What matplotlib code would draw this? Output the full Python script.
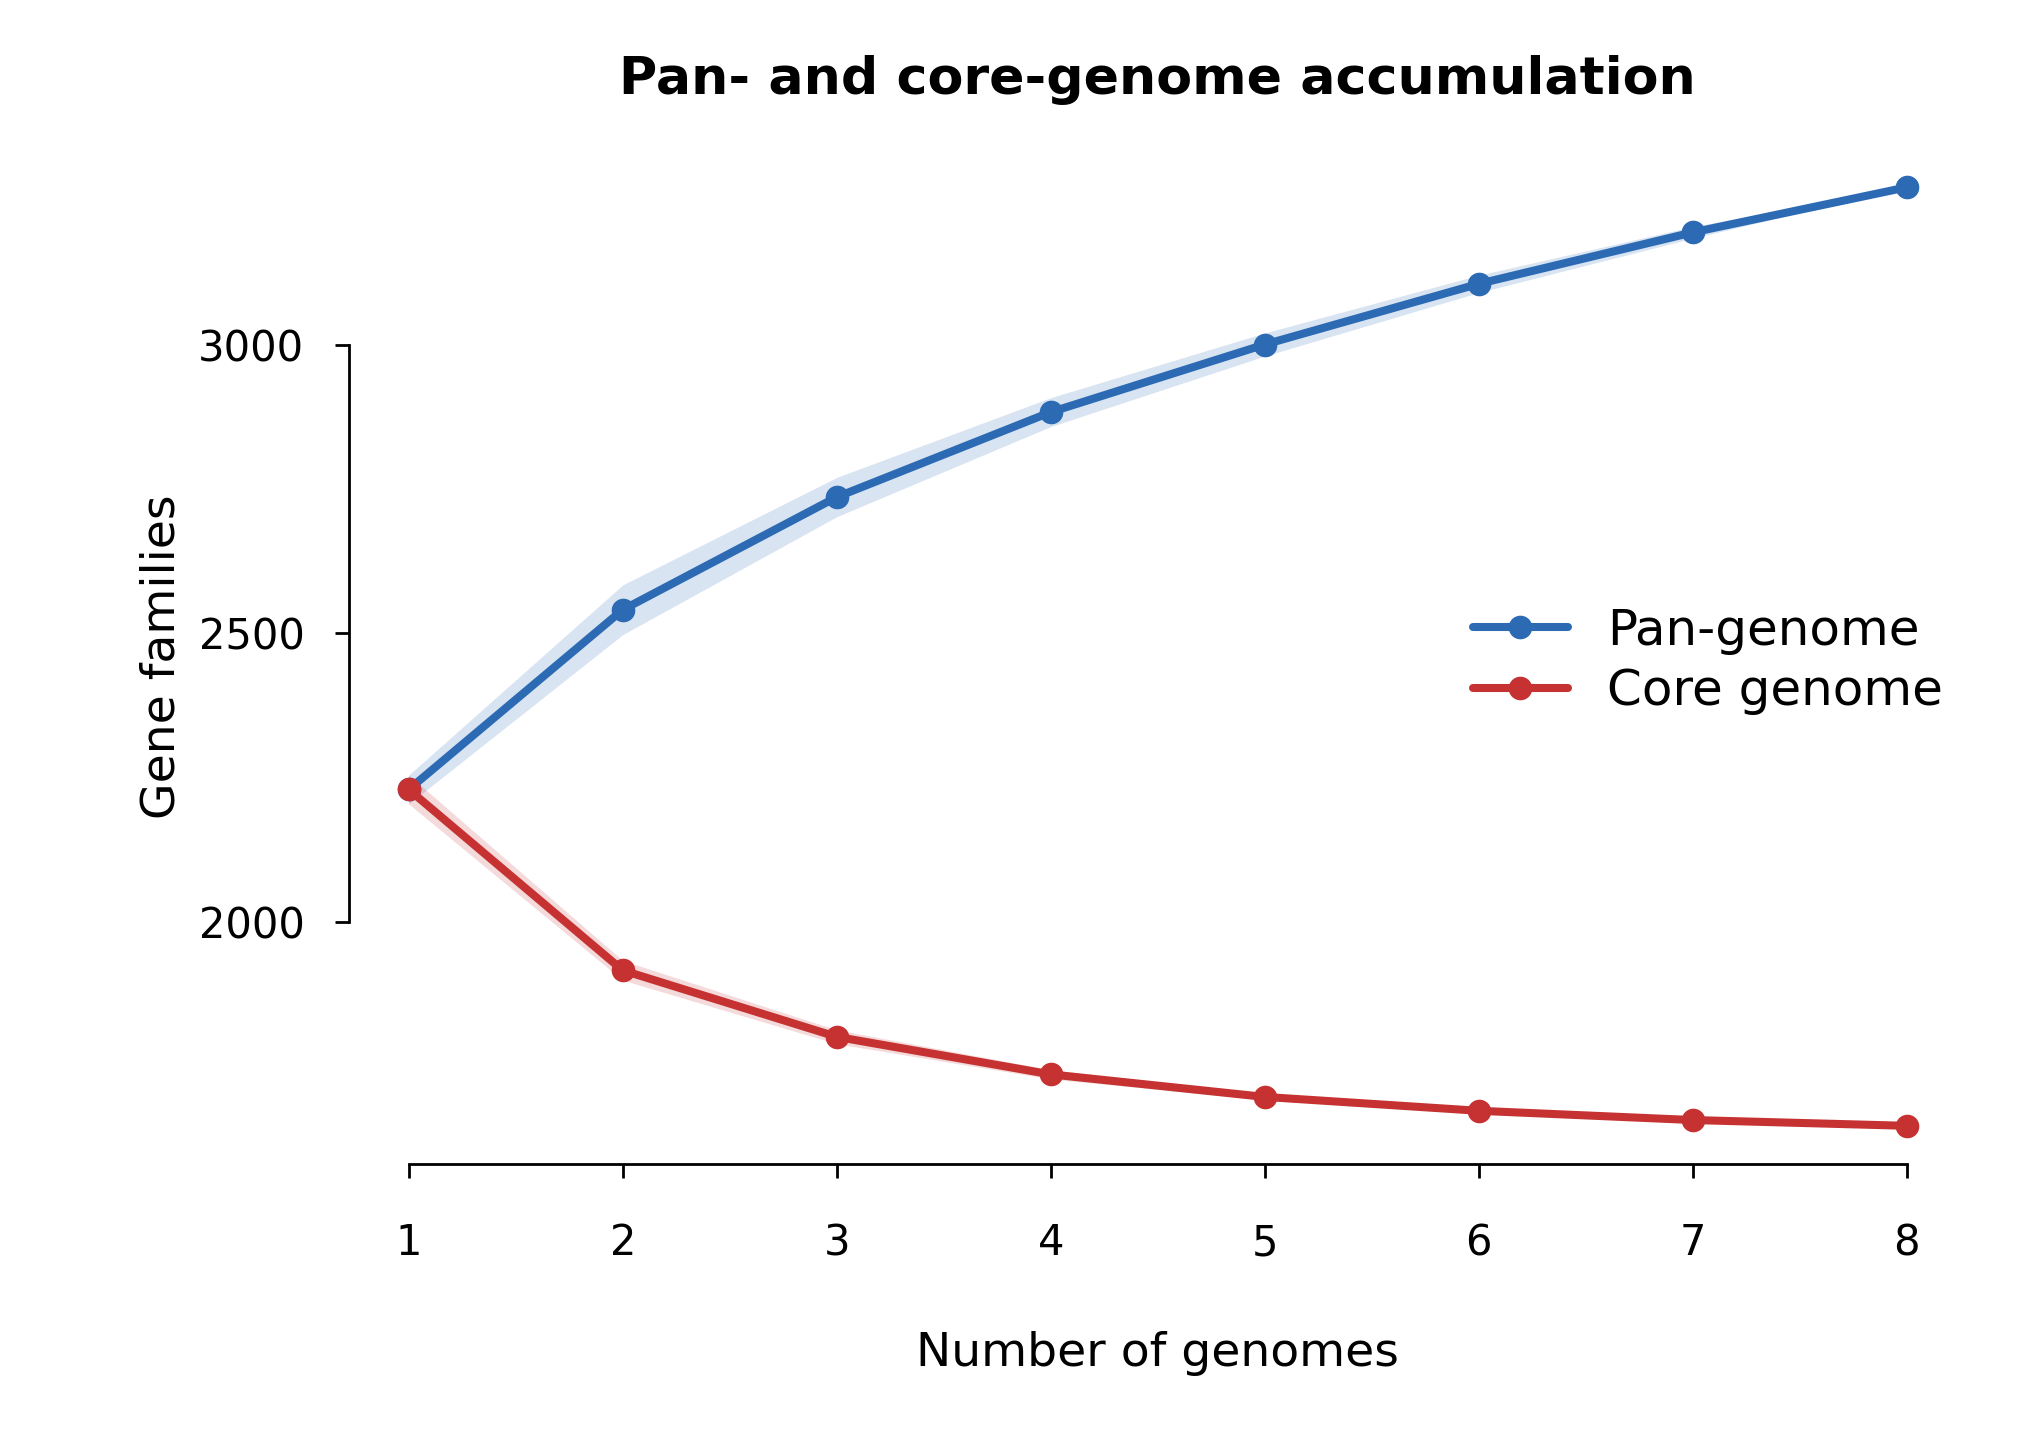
import matplotlib
matplotlib.use("Agg")
import matplotlib.pyplot as plt
import numpy as np

genomes = [1, 2, 3, 4, 5, 6, 7, 8]
pan_mean = [2230, 2541, 2736, 2883, 3000, 3105, 3194, 3272]
pan_sd = [25, 43, 34, 25, 20, 15, 10, 0]
core_mean = [2230, 1917, 1802, 1737, 1698, 1674, 1658, 1648]
core_sd = [25, 17, 12, 8, 5, 3, 2, 0]

blue = "#2c6ab4"
red = "#c63232"

plt.rcParams['font.family'] = ['DejaVu Sans']
fig = plt.figure(figsize=(10.2, 7.2), dpi=200)
ax = fig.add_axes([0.171, 0.1917, 0.793, 0.7043])

x = np.array(genomes)
pm, ps = np.array(pan_mean), np.array(pan_sd)
cm, cs = np.array(core_mean), np.array(core_sd)

ax.fill_between(x, pm - ps, pm + ps, color=blue, alpha=0.18, linewidth=0)
ax.fill_between(x, cm - cs, cm + cs, color=red, alpha=0.18, linewidth=0)
ax.plot(x, pm, color=blue, lw=2.9, marker='o', ms=7.5, label='Pan-genome', solid_capstyle='round')
ax.plot(x, cm, color=red, lw=2.9, marker='o', ms=7.5, label='Core genome', solid_capstyle='round')

ax.set_xlim(0.72, 8.28)
ax.set_ylim(1582, 3337)
ax.set_xticks(genomes)
ax.set_yticks([2000, 2500, 3000])
for s in ['top', 'right']:
    ax.spines[s].set_visible(False)
ax.spines['left'].set_bounds(2000, 3000)
ax.spines['bottom'].set_bounds(1, 8)
ax.spines['left'].set_linewidth(1.0)
ax.spines['bottom'].set_linewidth(1.0)
ax.tick_params(axis='both', direction='out', length=5, width=1.0, labelsize=15)
ax.tick_params(axis='x', pad=16)
ax.tick_params(axis='y', pad=11)

ax.set_xlabel('Number of genomes', fontsize=17, labelpad=24)
ax.set_ylabel('Gene families', fontsize=17, labelpad=5)
ax.set_title('Pan- and core-genome accumulation', fontsize=18.8, fontweight='bold', pad=20)

ax.legend(loc='center left', bbox_to_anchor=(0.667, 0.496), frameon=False, fontsize=18,
          handlelength=1.9, handletextpad=0.78, labelspacing=0.25)

fig.savefig('out.png', dpi=200)
